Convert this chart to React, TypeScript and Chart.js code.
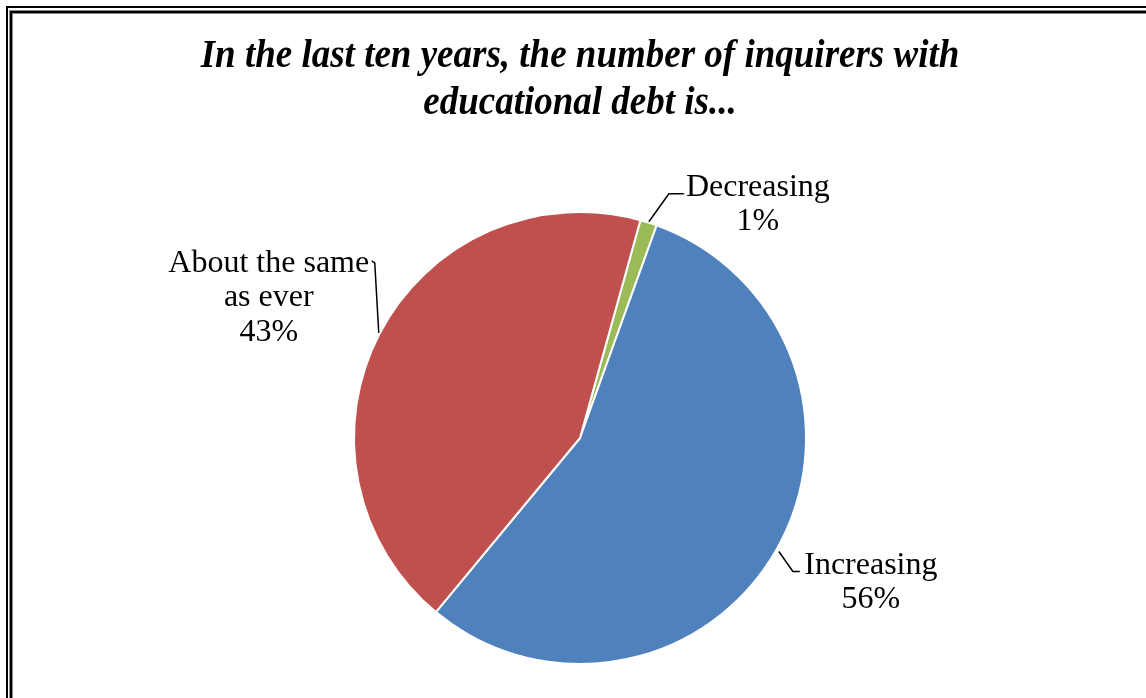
import React, { useEffect, useRef } from "react";
import { Chart, registerables } from "chart.js";
Chart.register(...registerables);

const categories = ["Decreasing", "Increasing", "About the same as ever"];
const labelLines = [["Decreasing"], ["Increasing"], ["About the same", "as ever"]];
const values = [1.2, 55.5, 43.3];
const colors = ["#9BBB59", "#4F81BD", "#C0504D"];
const titleLines = ["In the last ten years, the number of inquirers with", "educational debt is..."];

// label layout relative to the slice's edge point (styling only)
const labelLayout = [
  { rExtra: 1, leader: [[20, -28], [35, -28]], textDx: 109, textDy: -26 },
  { rExtra: 3, leader: [[14, 20], [21, 20]], textDx: 92, textDy: 22 },
  { rExtra: 1, leader: [[-4, -70], [-7, -72]], textDx: -110, textDy: -61 },
];

const W = 1146;
const H = 698;

const decor = {
  id: "decor",
  afterDraw(chart: any) {
    const ctx = chart.ctx as CanvasRenderingContext2D;
    ctx.save();
    // frame
    ctx.strokeStyle = "#000";
    ctx.lineWidth = 2;
    ctx.strokeRect(7, 7, W + 20, H + 20);
    ctx.strokeStyle = "#888";
    ctx.lineWidth = 4;
    ctx.strokeRect(11, 12, W + 20, H + 20);
    ctx.strokeStyle = "#000";
    ctx.lineWidth = 2;
    ctx.strokeRect(11, 12, W + 20, H + 20);

    const meta = chart.getDatasetMeta(0);
    const arc0 = meta.data[0];
    const cx = arc0.x;

    // title (slightly condensed)
    ctx.fillStyle = "#000";
    ctx.textAlign = "center";
    ctx.textBaseline = "alphabetic";
    ctx.font = "italic bold 40px 'Liberation Serif', 'Times New Roman', serif";
    const sx = 0.925;
    ctx.save();
    ctx.scale(sx, 1);
    ctx.fillText(titleLines[0], cx / sx, 67);
    ctx.fillText(titleLines[1], cx / sx, 114);
    ctx.restore();

    // labels
    ctx.font = "32px 'Liberation Serif', 'Times New Roman', serif";
    const total = values.reduce((a, b) => a + b, 0);
    meta.data.forEach((arc: any, i: number) => {
      const lay = labelLayout[i];
      const mid = (arc.startAngle + arc.endAngle) / 2;
      const r = arc.outerRadius + lay.rExtra;
      const ex = arc.x + Math.cos(mid) * r;
      const ey = arc.y + Math.sin(mid) * r;
      ctx.strokeStyle = "#000";
      ctx.lineWidth = 1.5;
      ctx.beginPath();
      ctx.moveTo(ex, ey);
      lay.leader.forEach(([dx, dy]) => ctx.lineTo(ex + dx, ey + dy));
      ctx.stroke();
      const pct = Math.round((values[i] / total) * 100) + "%";
      const lines = [...labelLines[i], pct];
      lines.forEach((t, k) => {
        ctx.fillText(t, ex + lay.textDx, ey + lay.textDy + k * 34.5);
      });
    });
    ctx.restore();
  },
};

export default function App() {
  const ref = useRef<HTMLCanvasElement>(null);
  useEffect(() => {
    if (!ref.current) return;
    const chart = new Chart(ref.current, {
      type: "pie",
      data: {
        labels: categories,
        datasets: [
          {
            data: values,
            backgroundColor: colors,
            borderColor: "#ffffff",
            borderWidth: 2,
          },
        ],
      },
      options: {
        responsive: false,
        animation: false,
        rotation: 15.5,
        layout: { padding: { left: 353, right: 339, top: 211, bottom: 33 } },
        plugins: { legend: { display: false }, tooltip: { enabled: false }, title: { display: false } },
      },
      plugins: [decor],
    });
    return () => chart.destroy();
  }, []);
  return (
    <div style={{ position: "fixed", left: 0, top: 0, width: W, height: H, background: "#fff" }}>
      <canvas ref={ref} width={W} height={H} style={{ display: "block", width: W, height: H }} />
    </div>
  );
}
